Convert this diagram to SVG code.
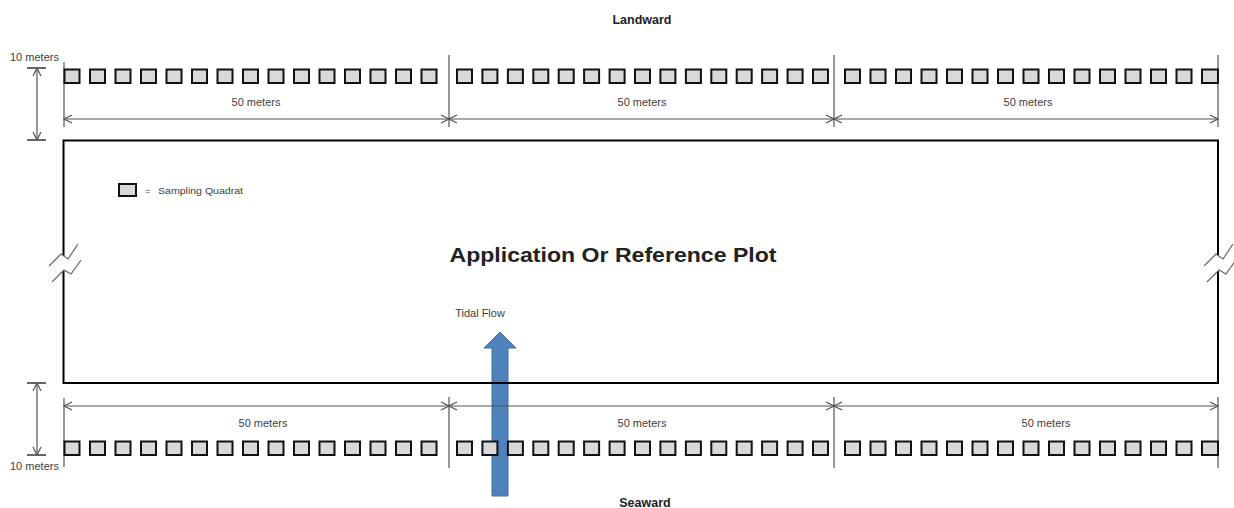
<svg xmlns="http://www.w3.org/2000/svg" xmlns:xlink="http://www.w3.org/1999/xlink" width="1234" height="508" viewBox="0 0 1234 508">
<style>
.t{font-family:"Liberation Sans",Arial,sans-serif;fill:#404040;}
.b{font-weight:bold;fill:#222;}
.dim{stroke:#555;stroke-width:1.2;fill:none;}
.tick{stroke:#000;stroke-width:1.2;}
.q{fill:#d9d9d9;stroke:#111;stroke-width:2;}
.brk{fill:#fff;stroke:none;}
.brkl{fill:none;stroke:#666;stroke-width:1.2;}
</style>
<defs>
<marker id="ah" markerWidth="10" markerHeight="10" refX="9" refY="5" orient="auto-start-reverse" markerUnits="userSpaceOnUse">
<path d="M1,1 L9,5 L1,9" fill="none" stroke="#555" stroke-width="1.2"/>
</marker>
<rect id="qd" class="q" width="15" height="13.5"/>
</defs>
<rect width="1234" height="508" fill="#fff"/>

<g id="tidal-flow">
<polygon points="500,332 516,348 508,348 508,496 492,496 492,348 484,348" fill="#4f81bd" stroke="#41719c" stroke-width="1"/>
<text class="t" x="480" y="317" font-size="11" text-anchor="middle">Tidal Flow</text>
</g>

<g id="plot">
<rect x="63.5" y="140.5" width="1154.5" height="242.5" fill="none" stroke="#000" stroke-width="2"/>
<text class="t b" x="613" y="262" font-size="19.5" text-anchor="middle" textLength="327" lengthAdjust="spacingAndGlyphs">Application Or Reference Plot</text>
</g>

<g id="breaks">
<polygon class="brk" points="49,266 61,254 68,259 78,244 81,260 71,274 64,270 52,282"/>
<path class="brkl" d="M49,266 L61,254 L68,259 L78,244 M52,282 L64,270 L71,274 L81,260"/>
<polygon class="brk" points="1204,266 1216,254 1223,259 1233,244 1236,260 1226,274 1219,270 1207,282"/>
<path class="brkl" d="M1204,266 L1216,254 L1223,259 L1233,244 M1207,282 L1219,270 L1226,274 L1236,260"/>
</g>

<g id="legend">
<rect class="q" x="119" y="184" width="17" height="12"/>
<text class="t" x="145" y="194" font-size="9">=</text>
<text class="t" x="158" y="194" font-size="9.5" textLength="85" lengthAdjust="spacingAndGlyphs">Sampling Quadrat</text>
</g>

<g id="labels">
<text class="t b" x="642" y="24" font-size="12.5" text-anchor="middle">Landward</text>
<text class="t b" x="645" y="507" font-size="12.5" text-anchor="middle">Seaward</text>
<text class="t" x="10" y="61" font-size="11">10 meters</text>
<text class="t" x="10" y="470" font-size="11">10 meters</text>
<text class="t" x="256" y="106" font-size="11" text-anchor="middle">50 meters</text>
<text class="t" x="642" y="106" font-size="11" text-anchor="middle">50 meters</text>
<text class="t" x="1028" y="106" font-size="11" text-anchor="middle">50 meters</text>
<text class="t" x="263" y="427" font-size="11" text-anchor="middle">50 meters</text>
<text class="t" x="642" y="427" font-size="11" text-anchor="middle">50 meters</text>
<text class="t" x="1046" y="427" font-size="11" text-anchor="middle">50 meters</text>
</g>

<g id="connectors">
<line class="dim" x1="64" y1="62" x2="64" y2="127"/>
<line class="dim" x1="449" y1="55" x2="449" y2="127"/>
<line class="dim" x1="834" y1="55" x2="834" y2="127"/>
<line class="dim" x1="1218" y1="55" x2="1218" y2="127"/>
<line class="dim" x1="64" y1="119" x2="449" y2="119" marker-start="url(#ah)" marker-end="url(#ah)"/>
<line class="dim" x1="449" y1="119" x2="834" y2="119" marker-start="url(#ah)" marker-end="url(#ah)"/>
<line class="dim" x1="834" y1="119" x2="1218" y2="119" marker-start="url(#ah)" marker-end="url(#ah)"/>
<line class="dim" x1="64" y1="398" x2="64" y2="467"/>
<line class="dim" x1="449" y1="397" x2="449" y2="468"/>
<line class="dim" x1="834" y1="397" x2="834" y2="468"/>
<line class="dim" x1="1218" y1="397" x2="1218" y2="468"/>
<line class="dim" x1="64" y1="406" x2="449" y2="406" marker-start="url(#ah)" marker-end="url(#ah)"/>
<line class="dim" x1="449" y1="406" x2="834" y2="406" marker-start="url(#ah)" marker-end="url(#ah)"/>
<line class="dim" x1="834" y1="406" x2="1218" y2="406" marker-start="url(#ah)" marker-end="url(#ah)"/>
<line class="tick" x1="27" y1="68" x2="46" y2="68"/>
<line class="tick" x1="27" y1="140" x2="46" y2="140"/>
<line class="dim" x1="37" y1="68" x2="37" y2="140" marker-start="url(#ah)" marker-end="url(#ah)"/>
<line class="tick" x1="27" y1="383" x2="46" y2="383"/>
<line class="tick" x1="27" y1="455" x2="46" y2="455"/>
<line class="dim" x1="37" y1="383" x2="37" y2="455" marker-start="url(#ah)" marker-end="url(#ah)"/>
</g>

<g id="quadrats-top" transform="translate(0,69.5)">
<use href="#qd" x="64.5"/><use href="#qd" x="90"/><use href="#qd" x="115.5"/><use href="#qd" x="141"/><use href="#qd" x="166.5"/><use href="#qd" x="192"/><use href="#qd" x="217.5"/><use href="#qd" x="243"/><use href="#qd" x="268.5"/><use href="#qd" x="294"/><use href="#qd" x="319.5"/><use href="#qd" x="345"/><use href="#qd" x="370.5"/><use href="#qd" x="396"/><use href="#qd" x="421.5"/>
<use href="#qd" x="457"/><use href="#qd" x="482.4"/><use href="#qd" x="507.9"/><use href="#qd" x="533.3"/><use href="#qd" x="558.7"/><use href="#qd" x="584.1"/><use href="#qd" x="609.6"/><use href="#qd" x="635"/><use href="#qd" x="660.4"/><use href="#qd" x="685.9"/><use href="#qd" x="711.3"/><use href="#qd" x="736.7"/><use href="#qd" x="762.1"/><use href="#qd" x="787.6"/><use href="#qd" x="813"/>
<use href="#qd" x="845"/><use href="#qd" x="870.5"/><use href="#qd" x="896"/><use href="#qd" x="921.5"/><use href="#qd" x="947"/><use href="#qd" x="972.5"/><use href="#qd" x="998"/><use href="#qd" x="1023.5"/><use href="#qd" x="1049"/><use href="#qd" x="1074.5"/><use href="#qd" x="1100"/><use href="#qd" x="1125.5"/><use href="#qd" x="1151"/><use href="#qd" x="1176.5"/><rect class="q" x="1202" y="0" width="16" height="13.5"/>
</g>

<g id="quadrats-bottom" transform="translate(0,441.5)">
<use href="#qd" x="64.5"/><use href="#qd" x="90"/><use href="#qd" x="115.5"/><use href="#qd" x="141"/><use href="#qd" x="166.5"/><use href="#qd" x="192"/><use href="#qd" x="217.5"/><use href="#qd" x="243"/><use href="#qd" x="268.5"/><use href="#qd" x="294"/><use href="#qd" x="319.5"/><use href="#qd" x="345"/><use href="#qd" x="370.5"/><use href="#qd" x="396"/><use href="#qd" x="421.5"/>
<use href="#qd" x="457"/><use href="#qd" x="482.4"/><use href="#qd" x="507.9"/><use href="#qd" x="533.3"/><use href="#qd" x="558.7"/><use href="#qd" x="584.1"/><use href="#qd" x="609.6"/><use href="#qd" x="635"/><use href="#qd" x="660.4"/><use href="#qd" x="685.9"/><use href="#qd" x="711.3"/><use href="#qd" x="736.7"/><use href="#qd" x="762.1"/><use href="#qd" x="787.6"/><use href="#qd" x="813"/>
<use href="#qd" x="845"/><use href="#qd" x="870.5"/><use href="#qd" x="896"/><use href="#qd" x="921.5"/><use href="#qd" x="947"/><use href="#qd" x="972.5"/><use href="#qd" x="998"/><use href="#qd" x="1023.5"/><use href="#qd" x="1049"/><use href="#qd" x="1074.5"/><use href="#qd" x="1100"/><use href="#qd" x="1125.5"/><use href="#qd" x="1151"/><use href="#qd" x="1176.5"/><rect class="q" x="1202" y="0" width="16" height="13.5"/>
</g>
</svg>
